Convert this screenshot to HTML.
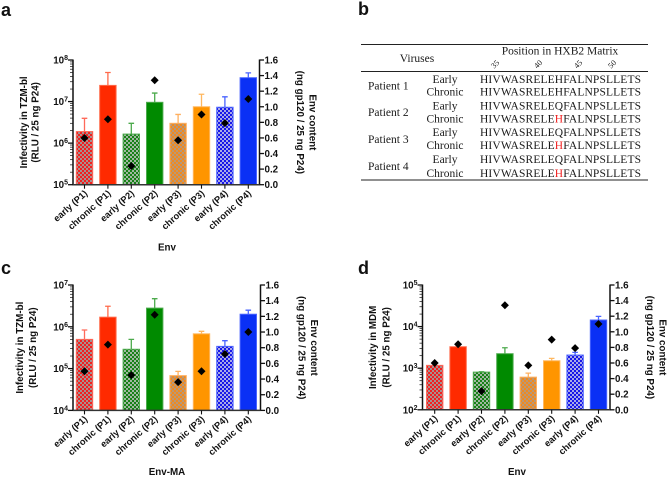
<!DOCTYPE html>
<html lang="en">
<head>
<meta charset="utf-8">
<title>Env infectivity panels</title>
<style>
html,body{margin:0;padding:0;background:#fff;width:669px;height:477px;overflow:hidden}
svg{display:block;filter:blur(0.35px)}
.b{font-family:"Liberation Sans",sans-serif;font-weight:bold;fill:#111}
.s{font-family:"Liberation Serif",serif;fill:#1a1a1a}
</style>
</head>
<body>
<svg id="fig" xmlns="http://www.w3.org/2000/svg" width="669" height="477" viewBox="0 0 669 477">
<defs>
<pattern id="chk-red" width="4" height="4" patternUnits="userSpaceOnUse"><rect width="4" height="4" fill="#a89090"/><rect width="2" height="2" fill="#f02020"/><rect x="2" y="2" width="2" height="2" fill="#f02020"/></pattern>
<pattern id="chk-green" width="4" height="4" patternUnits="userSpaceOnUse"><rect width="4" height="4" fill="#a0b8a0"/><rect width="2" height="2" fill="#188018"/><rect x="2" y="2" width="2" height="2" fill="#188018"/></pattern>
<pattern id="chk-orange" width="4" height="4" patternUnits="userSpaceOnUse"><rect width="4" height="4" fill="#b89878"/><rect width="2" height="2" fill="#f08a20"/><rect x="2" y="2" width="2" height="2" fill="#f08a20"/></pattern>
<pattern id="chk-blue" width="4" height="4" patternUnits="userSpaceOnUse"><rect width="4" height="4" fill="#a8a8e8"/><rect width="2" height="2" fill="#1818e8"/><rect x="2" y="2" width="2" height="2" fill="#1818e8"/></pattern>
</defs>

<text class="b" x="1" y="16" font-size="18">a</text>
<text class="b" x="358" y="15" font-size="18">b</text>
<text class="b" x="1" y="274" font-size="18">c</text>
<text class="b" x="358" y="274" font-size="18">d</text>

<g>
<line x1="361" y1="44.5" x2="648" y2="44.5" stroke="#222" stroke-width="1"/>
<line x1="361" y1="71.5" x2="648" y2="71.5" stroke="#222" stroke-width="1"/>
<line x1="361" y1="180" x2="648" y2="180" stroke="#222" stroke-width="1"/>
<text class="s" x="417" y="62" font-size="11.5" text-anchor="middle">Viruses</text>
<text class="s" x="560" y="54.5" font-size="11.5" text-anchor="middle">Position in HXB2 Matrix</text>
<text class="s" font-size="8" text-anchor="middle" transform="translate(497 66) rotate(-45)">35</text>
<text class="s" font-size="8" text-anchor="middle" transform="translate(540 66) rotate(-45)">40</text>
<text class="s" font-size="8" text-anchor="middle" transform="translate(580 66) rotate(-45)">45</text>
<text class="s" font-size="8" text-anchor="middle" transform="translate(614 66) rotate(-45)">50</text>

<text class="s" x="368" y="89.5" font-size="11.5">Patient 1</text>
<text class="s" x="368" y="116" font-size="11.5">Patient 2</text>
<text class="s" x="368" y="143" font-size="11.5">Patient 3</text>
<text class="s" x="368" y="170" font-size="11.5">Patient 4</text>

<text class="s" x="445" y="83" font-size="11.5" text-anchor="middle">Early</text>
<text class="s" x="445" y="95.5" font-size="11.5" text-anchor="middle">Chronic</text>
<text class="s" x="445" y="109.5" font-size="11.5" text-anchor="middle">Early</text>
<text class="s" x="445" y="122.5" font-size="11.5" text-anchor="middle">Chronic</text>
<text class="s" x="445" y="136" font-size="11.5" text-anchor="middle">Early</text>
<text class="s" x="445" y="149" font-size="11.5" text-anchor="middle">Chronic</text>
<text class="s" x="445" y="163" font-size="11.5" text-anchor="middle">Early</text>
<text class="s" x="445" y="177" font-size="11.5" text-anchor="middle">Chronic</text>

<text class="s" x="480" y="83" font-size="11.5" textLength="161" lengthAdjust="spacing">HIVWASRELEHFALNPSLLETS</text>
<text class="s" x="480" y="95.5" font-size="11.5" textLength="161" lengthAdjust="spacing">HIVWASRELEHFALNPSLLETS</text>
<text class="s" x="480" y="109.5" font-size="11.5" textLength="161" lengthAdjust="spacing">HIVWASRELEQFALNPSLLETS</text>
<text class="s" x="480" y="122.5" font-size="11.5" textLength="161" lengthAdjust="spacing">HIVWASRELE<tspan fill="#f02020">H</tspan>FALNPSLLETS</text>
<text class="s" x="480" y="136" font-size="11.5" textLength="161" lengthAdjust="spacing">HIVWASRELEQFALNPSLLETS</text>
<text class="s" x="480" y="149" font-size="11.5" textLength="161" lengthAdjust="spacing">HIVWASRELE<tspan fill="#f02020">H</tspan>FALNPSLLETS</text>
<text class="s" x="480" y="163" font-size="11.5" textLength="161" lengthAdjust="spacing">HIVWASRELEQFALNPSLLETS</text>
<text class="s" x="480" y="177" font-size="11.5" textLength="161" lengthAdjust="spacing">HIVWASRELE<tspan fill="#f02020">H</tspan>FALNPSLLETS</text>
</g>
</svg>

<script>
const categories = ['early (P1)','chronic (P1)','early (P2)','chronic (P2)','early (P3)','chronic (P3)','early (P4)','chronic (P4)'];
const envTickLabels = ['0.0','0.2','0.4','0.6','0.8','1.0','1.2','1.4','1.6'];

const decadesA = [5,6,7,8];
const infectivityA = [1.9e6,2.45e7,1.65e6,9.6e6,3e6,7.5e6,7.3e6,3.75e7];
const errorTopA = [3.95e6,5e7,3e6,1.6e7,4.9e6,1.5e7,1.3e7,4.9e7];
const envContentA = [0.6,0.84,0.24,1.34,0.57,0.9,0.79,1.1];

const decadesC = [4,5,6,7];
const infectivityC = [5e5,1.7e6,2.9e5,2.8e6,6.8e4,6.8e5,3.4e5,2e6];
const errorTopC = [8.4e5,3.1e6,5e5,4.7e6,8.6e4,7.8e5,4.65e5,2.5e6];
const envContentC = [0.5,0.84,0.45,1.22,0.36,0.5,0.72,1.0];

const decadesD = [2,3,4,5];
const infectivityD = [1170,3280,805,2230,610,1510,2070,14400];
const errorTopD = [1170,3280,820,3100,760,1720,2400,17600];
const envContentD = [0.6,0.84,0.24,1.34,0.57,0.9,0.79,1.1];

const fills = ['url(#chk-red)','#ff2a00','url(#chk-green)','#008a00','url(#chk-orange)','#ff9500','url(#chk-blue)','#0a30f5'];
const edges = ['#ff6a5a','#ff6a4a','#4caa4c','#4caa4c','#ffb060','#ffb860','#4a64ff','#4a64ff'];

const svg = document.getElementById('fig');
const NS = 'http://www.w3.org/2000/svg';

function make(tag, attrs, parent) {
  const el = document.createElementNS(NS, tag);
  for (const k in attrs) el.setAttribute(k, attrs[k]);
  parent.appendChild(el);
  return el;
}

function drawPanel(p) {
  const g = make('g', {}, svg);
  
  

  const minD = p.decades[0], maxD = p.decades[p.decades.length - 1];
  const yLog = v => p.bottom - (Math.log10(v) - minD) / (maxD - minD) * (p.bottom - p.top);
  const yEnv = v => p.bottom - v / 1.6 * (p.bottom - p.top);
  const xCat = i => p.x0 + i * p.step;

  // bars and error bars
  categories.forEach((c, i) => {
    const x = xCat(i), top = yLog(p.values[i]), errY = yLog(p.errors[i]);
    if (p.errors[i] > p.values[i]) {
      const err = make('path', {d: 'M' + x + ' ' + top + 'V' + errY + 'M' + (x - 2.8) + ' ' + errY + 'H' + (x + 2.8), stroke: edges[i], 'stroke-width': 1.3, fill: 'none'}, g);
      
      
    }
    const bar = make('rect', {x: x - 8.2, y: top, width: 16.4, height: p.bottom - top, fill: fills[i], stroke: edges[i], 'stroke-width': 1}, g);
    
    
  });

  // left log axis
  const left = make('line', {x1: p.left, x2: p.left, y1: p.top - 0.5, y2: p.bottom + 0.6, stroke: '#111', 'stroke-width': 1.5}, g);
  
  

  p.decades.forEach((d, idx) => {
    const y = yLog(Math.pow(10, d));
    const t = make('line', {x1: p.left - 5, x2: p.left, y1: y, y2: y, stroke: '#111', 'stroke-width': 1.3}, g);
    
    
    const lab = make('text', {class: 'b', x: p.left - 5, y: y + 3.5, 'font-size': 9.8, 'text-anchor': 'end'}, g);
    
    
    const base = make('tspan', {}, lab);
    base.textContent = '10';
    const sup = make('tspan', {dy: -3.5, 'font-size': 7}, lab);
    sup.textContent = String(d);
    if (idx < p.decades.length - 1) {
      for (let m = 2; m < 10; m++) {
        const ym = yLog(m * Math.pow(10, d));
        const mt = make('line', {x1: p.left - 3, x2: p.left, y1: ym, y2: ym, stroke: '#111', 'stroke-width': 0.7}, g);
        
        
      }
    }
  });

  // right axis
  const right = make('line', {x1: p.right, x2: p.right, y1: p.top - 0.5, y2: p.bottom + 0.6, stroke: '#111', 'stroke-width': 1.5}, g);
  
  

  envTickLabels.forEach(l => {
    const y = yEnv(parseFloat(l));
    const t = make('line', {x1: p.right, x2: p.right + 4.5, y1: y, y2: y, stroke: '#111', 'stroke-width': 1.3}, g);
    
    
    const lab = make('text', {class: 'b', x: p.right + 5, y: y + 3.5, 'font-size': 9.8}, g);
    
    
    lab.textContent = l;
  });

  // x axis
  const xAxis = make('line', {x1: p.left, x2: p.right, y1: p.bottom, y2: p.bottom, stroke: '#333', 'stroke-width': 1.5}, g);
  
  

  categories.forEach((c, i) => {
    const x = xCat(i);
    const t = make('line', {x1: x, x2: x, y1: p.bottom, y2: p.bottom + 4, stroke: '#111', 'stroke-width': 1.1}, g);
    
    
    const lab = make('text', {class: 'b', 'font-size': 9.3, 'text-anchor': 'end', transform: 'translate(' + (x + 3.5) + ' ' + (p.bottom + 9.5) + ') rotate(-42)'}, g);
    
    
    lab.textContent = c;
  });

  // env diamonds
  categories.forEach((c, i) => {
    const x = xCat(i), y = yEnv(p.env[i]);
    const dm = make('path', {d: 'M' + x + ' ' + (y - 4) + 'L' + (x + 4) + ' ' + y + 'L' + x + ' ' + (y + 4) + 'L' + (x - 4) + ' ' + y + 'Z', fill: '#000'}, g);
    
    
  });

  // titles
  const cy = (p.top + p.bottom) / 2 + p.titleShift;
  const t1 = make('text', {class: 'b', 'font-size': 9.8, 'text-anchor': 'middle', transform: 'translate(' + p.yT1 + ' ' + cy + ') rotate(-90)'}, g);
  
  
  t1.textContent = p.yTitle;
  const t2 = make('text', {class: 'b', 'font-size': 9.8, 'text-anchor': 'middle', transform: 'translate(' + p.yT2 + ' ' + cy + ') rotate(-90)'}, g);
  
  
  t2.textContent = '(RLU / 25 ng P24)';
  const r1 = make('text', {class: 'b', 'font-size': 9.8, 'text-anchor': 'middle', transform: 'translate(' + p.rT1 + ' ' + cy + ') rotate(90)'}, g);
  
  
  r1.textContent = 'Env content';
  const r2 = make('text', {class: 'b', 'font-size': 9.8, 'text-anchor': 'middle', transform: 'translate(' + p.rT2 + ' ' + cy + ') rotate(90)'}, g);
  
  
  r2.textContent = '(ng gp120 / 25 ng P24)';
  const xt = make('text', {class: 'b', 'font-size': 9.8, 'text-anchor': 'middle', x: p.xTitleX, y: p.xTitleY}, g);
  
  
  xt.textContent = p.xTitle;
}

drawPanel({id: 'a', decades: decadesA, values: infectivityA, errors: errorTopA, env: envContentA,
  left: 73, right: 259.5, top: 60, bottom: 184.7, x0: 84.5, step: 23.4,
  yTitle: 'Infectivity in TZM-bl', yT1: 27, yT2: 38.5, rT1: 309.5, rT2: 297, titleShift: 0,
  xTitle: 'Env', xTitleX: 167, xTitleY: 250.5});
drawPanel({id: 'c', decades: decadesC, values: infectivityC, errors: errorTopC, env: envContentC,
  left: 73, right: 260.5, top: 285, bottom: 410.4, x0: 84.5, step: 23.4,
  yTitle: 'Infectivity in TZM-bl', yT1: 23, yT2: 36, rT1: 311, rT2: 298.5, titleShift: 0,
  xTitle: 'Env-MA', xTitleX: 167, xTitleY: 475});
drawPanel({id: 'd', decades: decadesD, values: infectivityD, errors: errorTopD, env: envContentD,
  left: 422.5, right: 610, top: 285, bottom: 409.8, x0: 434.7, step: 23.4,
  yTitle: 'Infectivity in MDM', yT1: 376, yT2: 389.5, rT1: 659.5, rT2: 647, titleShift: 0,
  xTitle: 'Env', xTitleX: 517, xTitleY: 475});
</script>
</body>
</html>
